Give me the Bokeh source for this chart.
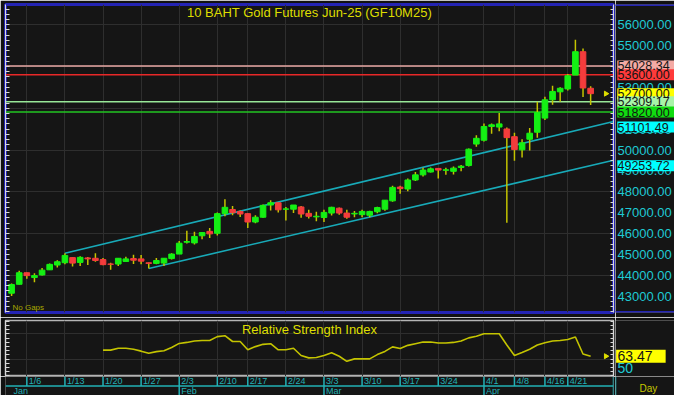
import numpy as np
from bokeh.plotting import figure
from bokeh.layouts import column, row
from bokeh.models import (Range1d, LinearAxis, SingleIntervalTicker, FixedTicker,
                          Label, Span, Grid, ColumnDataSource)
from bokeh.core.properties import value
from bokeh.embed import file_html
from bokeh.resources import INLINE

# ---------------- data ----------------
dates = ["1/2", "1/3", "1/6", "1/7", "1/8", "1/9", "1/10", "1/13", "1/14", "1/15", "1/16", "1/17",
         "1/20", "1/21", "1/22", "1/23", "1/24", "1/27", "1/28", "1/29", "1/30", "1/31",
         "2/3", "2/4", "2/5", "2/6", "2/7", "2/10", "2/11", "2/13", "2/14", "2/17", "2/18", "2/19",
         "2/20", "2/21", "2/24", "2/25", "2/26", "2/27", "2/28",
         "3/3", "3/4", "3/5", "3/6", "3/7", "3/10", "3/11", "3/12", "3/13", "3/14", "3/17", "3/18",
         "3/19", "3/20", "3/21", "3/24", "3/25", "3/26", "3/27", "3/28", "3/31",
         "4/1", "4/2", "4/3", "4/4", "4/8", "4/9", "4/10", "4/11", "4/16", "4/17", "4/18",
         "4/21", "4/22", "4/23", "4/24"]

opens = [43143, 43571, 44124, 43894, 44018, 44263, 44493, 44604, 44848, 44618, 44833, 44816,
         44756, 44540, 44540, 44664, 44802, 44787, 44600, 44572, 44587, 44802,
         45018, 45585, 45553, 45894, 46106, 46014, 46954, 47152, 47060, 46954, 46553, 46783,
         47367, 47475, 47167, 47167, 47276, 46968, 46800,
         46770, 46982, 47214, 46982, 46940, 46906, 46876, 47045, 47167, 47567, 48226, 48134,
         48566, 48811, 48949, 49120, 49030, 48980, 49165, 49258, 50286,
         50470, 51129, 51101, 51009, 50640, 50009, 50516, 50853, 51530, 52406, 52788,
         52926, 53590, 54710, 52959]
highs = [43604, 44217, 44140, 44094, 44355, 44571, 44724, 45060, 44860, 44908, 44880, 45060,
         44833, 44602, 44817, 44894, 44986, 44970, 44615, 44833, 44818, 45060,
         45645, 46138, 46092, 46046, 46263, 47014, 47645, 47322, 47106, 46970, 46876, 47397,
         47600, 47490, 47276, 47367, 47322, 47137, 47045,
         47137, 47290, 47245, 47137, 47076, 47137, 47091, 47290, 47600, 48290, 48290, 48641,
         48949, 49147, 49165, 49130, 49147, 49211, 49285, 50069, 50714,
         51267, 51267, 51774, 51083, 50825, 50516, 51055, 52313, 52558, 53083, 53005,
         53636, 55276, 54862, 53051]
lows = [43005, 43558, 43834, 43664, 43986, 44263, 44373, 44525, 44419, 44447, 44493, 44650,
        44479, 44263, 44447, 44664, 44540, 44525, 44327, 44525, 44447, 44756,
        45018, 45522, 45480, 45724, 45783, 45908, 46829, 46876, 46798, 46263, 46493, 46752,
        47106, 47014, 46631, 46982, 46752, 46723, 46585,
        46553, 46860, 46906, 46706, 46783, 46783, 46783, 46968, 47091, 47521, 47904, 48028,
        48520, 48733, 48922, 48641, 48811, 48826, 48980, 49212, 50161,
        50410, 50779, 50899, 46521, 49488, 49641, 49977, 50594, 51438, 52175, 52313,
        52853, 53590, 52544, 52161]
closes = [43558, 44124, 43986, 43986, 44249, 44525, 44650, 44954, 44585, 44862, 44788, 44710,
          44512, 44530, 44817, 44787, 44725, 44679, 44572, 44710, 44818, 45018,
          45539, 45620, 45862, 46046, 45986, 46954, 47258, 47000, 46937, 46553, 46783, 47352,
          47475, 47137, 47180, 47367, 46937, 46829, 46830,
          47014, 47258, 46982, 46783, 46970, 47060, 47060, 47245, 47600, 48212, 48152, 48566,
          48811, 49041, 49101, 49041, 49055, 49134, 49226, 50041, 50562,
          51129, 51207, 51253, 50594, 50023, 50349, 50806, 51793, 52406, 52806, 52959,
          53558, 54710, 52972, 52700]

rsi = [None] * 12 + [
    70.7, 70.7, 73.0, 73.0, 71.8, 69.5, 66.9, 68.9, 70.0, 73.8,
    78.7, 79.9, 81.5, 82.2, 82.2, 86.8, 87.9, 81.0, 81.0, 71.1, 74.9, 77.6, 78.4, 71.1,
    71.1, 73.0, 64.3, 61.5, 62.0,
    64.3, 67.5, 63.4, 57.4, 60.3, 60.3, 60.3, 65.4, 69.2, 74.6, 72.6, 76.4, 78.4, 80.3,
    80.3, 79.2, 79.2, 79.9, 81.5, 85.3, 87.2,
    90.2, 90.2, 90.2, 76.9, 64.3, 68.0, 71.8, 76.9, 79.5, 81.5, 82.2, 83.3, 86.4, 66.1, 63.47]

week_ticks = ["1/6", "1/13", "1/20", "1/27", "2/3", "2/10", "2/17", "2/24", "3/3", "3/10",
              "3/17", "3/24", "4/1", "4/8", "4/16", "4/21"]
months = ["Jan", "Feb", "Mar", "Apr"]
month_starts = ["1/2", "2/3", "3/3", "4/1"]

price_ticks = [43000, 44000, 45000, 46000, 47000, 48000, 49000, 50000, 51000, 52000,
               53000, 54000, 55000, 56000]
rsi_ticks = [50]

level_values = [54028.34, 53600.00, 52309.17, 51820.00]
level_line_colors = ["#e8a8a4", "#e82828", "#98e898", "#22c422"]
level_box_colors = ["#f4aaa4", "#ff3a3a", "#a8f4a8", "#10dc10"]

chan_upper_x = [7, 76]
chan_upper_y = [45060.0, 51101.49]
chan_lower_x = [18, 76]
chan_lower_y = [44327.0, 49253.72]

title = "10 BAHT Gold Futures Jun-25 (GF10M25)"

# ---------------- style ----------------
BG = "#151515"
BORDER = "#111111"
GRID = "#2e2e2e"
YEL = "#dede00"
WICK = "#c4c400"
UP = "#14f014"
DOWN = "#f43c3c"
CYAN = "#1fcad4"
TEAL = "#18aab8"
DATE_C = "#22b2b6"
BLUE = "#2424b4"
FONT = "Liberation Sans"
AXC = "#d8d8d8"
FW = 608          # frame width of the chart panels
SW = 59           # width of the right-hand value column

n = len(dates)
idx = list(range(n))
X0, X1 = -0.8, 79.0
xr = Range1d(X0, X1)
week_pos = [dates.index(t) for t in week_ticks]
month_pos = [dates.index(s) for s in month_starts]

PY0, PY1 = 42220, 56970
RY0, RY1 = 39.3, 106.0
yr_main = Range1d(PY0, PY1)
yr_rsi = Range1d(RY0, RY1)
yr_date = Range1d(0, 2)


def tick_axis(fig, minor, loc, tin):
    ax = LinearAxis(ticker=FixedTicker(ticks=[], minor_ticks=minor))
    ax.axis_line_color = AXC
    ax.minor_tick_line_color = AXC
    ax.minor_tick_in = tin
    ax.minor_tick_out = 0
    ax.major_tick_in = 0
    ax.major_tick_out = 0
    ax.major_label_standoff = 0
    fig.add_layout(ax, loc)


def base_fig(h, yr, top, bottom):
    f = figure(frame_width=FW, frame_height=h, x_range=xr, y_range=yr,
               output_backend="svg", toolbar_location=None,
               x_axis_location=None, y_axis_location=None,
               min_border_left=5, min_border_right=2,
               min_border_top=top, min_border_bottom=bottom,
               background_fill_color=BG, border_fill_color=BORDER)
    f.grid.visible = False
    return f


def side_fig(h, yr, top, bottom):
    f = figure(frame_width=SW, frame_height=h, x_range=Range1d(0, 1), y_range=yr,
               output_backend="svg", toolbar_location=None,
               x_axis_location=None, y_axis_location=None,
               min_border_left=0, min_border_right=0,
               min_border_top=top, min_border_bottom=bottom,
               background_fill_color=BG, border_fill_color=BORDER)
    f.grid.visible = False
    f.outline_line_color = None
    return f


# ---------------- main price panel ----------------
p = base_fig(308, yr_main, 4, 5)
p.outline_line_color = BLUE
p.outline_line_width = 3
p.add_layout(Grid(dimension=0, ticker=FixedTicker(ticks=week_pos), grid_line_color=GRID))
p.add_layout(Grid(dimension=1, ticker=SingleIntervalTicker(interval=2000), grid_line_color=GRID))
minor_p = list(range(42250, 57000, 250))
tick_axis(p, minor_p, "right", 3)
tick_axis(p, minor_p, "left", 4)

for val, lc in zip(level_values, level_line_colors):
    p.add_layout(Span(location=val, dimension="width", line_color=lc, line_width=1.5,
                      level="underlay"))


def extend(xs, ys, x_end):
    slope = (ys[1] - ys[0]) / (xs[1] - xs[0])
    return [xs[0], x_end], [ys[0], ys[0] + slope * (x_end - xs[0])]


ux, uy = extend(chan_upper_x, chan_upper_y, X1)
lx, ly = extend(chan_lower_x, chan_lower_y, X1)
p.line(ux, uy, line_color=TEAL, line_width=1.6)
p.line(lx, ly, line_color=TEAL, line_width=1.6)

tops = [max(o, c) for o, c in zip(opens, closes)]
bots = [min(o, c) for o, c in zip(opens, closes)]
cols = [UP if c >= o else DOWN for o, c in zip(opens, closes)]
src = ColumnDataSource(dict(x=idx, h=highs, l=lows, top=tops, bot=bots, col=cols))
p.segment(x0="x", y0="h", x1="x", y1="l", line_color=WICK, line_width=1.5, source=src)
p.vbar(x="x", width=0.74, top="top", bottom="bot", fill_color="col", line_color="col",
       line_width=1, source=src)

p.scatter(x=[n + 1], y=[closes[-1]], marker="triangle", angle=-np.pi / 2, size=5, color=YEL)

p.add_layout(Label(x=(X0 + X1) / 2, y=PY1, y_offset=-8, text=title, text_align="center",
                   text_baseline="middle", text_color=YEL, text_font=FONT,
                   text_font_size="13px"))
p.add_layout(Label(x=X0, y=PY0, x_offset=7, y_offset=1, text="No Gaps", text_align="left",
                   text_baseline="bottom", text_color="#a8a800", text_font=FONT,
                   text_font_size="8px"))

# price value column
pl = side_fig(308, yr_main, 4, 5)
pl.add_layout(Span(location=PY1, dimension="width", line_color=BLUE, line_width=3))
pl.add_layout(Span(location=PY0, dimension="width", line_color=BLUE, line_width=3))
pl.text(x=[0] * len(price_ticks), y=price_ticks, text=[f"{t:.2f}" for t in price_ticks],
        x_offset=2, text_align="left", text_baseline="middle", text_color=CYAN,
        text_font=value(FONT), text_font_size=value("13px"))
box_vals = level_values[:2] + [closes[-1]] + level_values[2:] + [chan_upper_y[1], chan_lower_y[1]]
box_cols = level_box_colors[:2] + ["#ffff00"] + level_box_colors[2:] + ["#00ffff", "#00ffff"]
pl.rect(x=[0.515] * len(box_vals), y=box_vals, width=0.97, height=11, height_units="screen",
        fill_color=box_cols, line_color=None)
pl.text(x=[0] * len(box_vals), y=box_vals, text=[f"{v:.2f}" for v in box_vals],
        x_offset=2, text_align="left", text_baseline="middle", text_color="#141414",
        text_font=value(FONT), text_font_size=value("12.5px"))

# ---------------- RSI panel ----------------
r = base_fig(56, yr_rsi, 3, 0)
r.outline_line_color = "#b4b4b4"
r.outline_line_width = 1.5
r.add_layout(Grid(dimension=0, ticker=FixedTicker(ticks=week_pos), grid_line_color=GRID))
r.add_layout(Grid(dimension=1, ticker=FixedTicker(ticks=[60, 90]), grid_line_color=GRID))
minor_r = list(range(40, 106, 5))
tick_axis(r, minor_r, "right", 3)
tick_axis(r, minor_r, "left", 4)
rsi_y = [np.nan if v is None else v for v in rsi]
r.line(idx, rsi_y, line_color=WICK, line_width=1.6)
r.scatter(x=[n + 1], y=[rsi[-1]], marker="triangle", angle=-np.pi / 2, size=5, color=YEL)
r.add_layout(Label(x=(X0 + X1) / 2, y=RY1, y_offset=-9, text="Relative Strength Index",
                   text_align="center", text_baseline="middle", text_color=YEL,
                   text_font=FONT, text_font_size="13px"))

rl = side_fig(56, yr_rsi, 3, 0)
rl.text(x=[0] * len(rsi_ticks), y=rsi_ticks, text=[str(t) for t in rsi_ticks], x_offset=2,
        text_align="left", text_baseline="middle", text_color=CYAN,
        text_font=value(FONT), text_font_size=value("14px"))
rl.rect(x=[0.43], y=[rsi[-1]], width=0.84, height=13, height_units="screen",
        fill_color="#ffff00", line_color=None)
rl.text(x=[0], y=[rsi[-1]], text=[f"{rsi[-1]:.2f}"], x_offset=2, text_align="left",
        text_baseline="middle", text_color="#141414", text_font=value(FONT),
        text_font_size=value("14px"))

# ---------------- date strip ----------------
d = base_fig(19, yr_date, 0, 0)
d.outline_line_color = None
d.add_layout(Span(location=1, dimension="width", line_color=DATE_C, line_width=1.5))
d.add_layout(Span(location=X1, dimension="height", line_color=DATE_C, line_width=1.5))
d.segment(x0=week_pos, y0=[1] * len(week_pos), x1=week_pos, y1=[2] * len(week_pos),
          line_color=DATE_C, line_width=1.5)
d.segment(x0=month_pos[1:], y0=[0] * (len(month_pos) - 1), x1=month_pos[1:],
          y1=[1] * (len(month_pos) - 1), line_color=DATE_C, line_width=1.5)
d.text(x=week_pos, y=[1.5] * len(week_pos), text=week_ticks, x_offset=2,
       text_align="left", text_baseline="middle", text_color=DATE_C,
       text_font=value(FONT), text_font_size=value("9px"))
d.text(x=month_pos, y=[0.5] * len(month_pos), text=months, x_offset=2,
       text_align="left", text_baseline="middle", text_color=DATE_C,
       text_font=value(FONT), text_font_size=value("9px"))

dl = side_fig(19, yr_date, 0, 0)
dl.add_layout(Span(location=0, dimension="height", line_color=DATE_C, line_width=1.5))
dl.add_layout(Label(x=0, y=0.7, x_offset=24, text="Day", text_align="left",
                    text_baseline="middle", text_color="#c8c800", text_font=FONT,
                    text_font_size="10px"))

layout = column(row(p, pl, spacing=0), row(r, rl, spacing=0), row(d, dl, spacing=0),
                spacing=0)
open("out.html", "w").write(file_html(layout, INLINE))
